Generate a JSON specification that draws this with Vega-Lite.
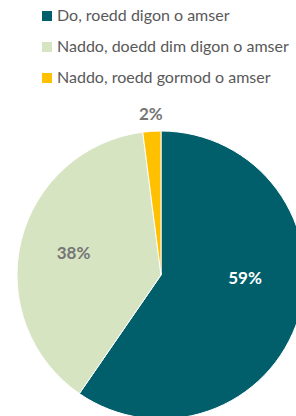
{
  "$schema": "https://vega.github.io/schema/vega-lite/v6.json",
  "width": 270,
  "height": 282,
  "autosize": {"type": "none"},
  "padding": {"left": 26, "top": 134, "right": 0, "bottom": 0},
  "background": "white",
  "config": {"view": {"stroke": null}},
  "data": {
    "values": [
      {"answer": "Do, roedd digon o amser", "value": 59, "label": "59%"},
      {"answer": "Naddo, doedd dim digon o amser", "value": 38, "label": "38%"},
      {"answer": "Naddo, roedd gormod o amser", "value": 2, "label": "2%"}
    ]
  },
  "encoding": {
    "theta": {"field": "value", "type": "quantitative", "stack": true},
    "order": {"field": "value", "type": "quantitative", "sort": "descending"}
  },
  "layer": [
    {
      "mark": {"type": "arc", "radius": 144, "stroke": "white", "strokeWidth": 1},
      "encoding": {
        "color": {
          "field": "answer",
          "type": "nominal",
          "scale": {
            "domain": ["Do, roedd digon o amser", "Naddo, doedd dim digon o amser", "Naddo, roedd gormod o amser"],
            "range": ["#005F6B", "#D6E4C2", "#FFC000"]
          },
          "legend": {
            "title": null,
            "orient": "none",
            "legendX": 13,
            "legendY": -126,
            "padding": 0,
            "symbolType": "square",
            "symbolSize": 100,
            "symbolStrokeWidth": 0,
            "labelFont": "Lato",
            "labelFontSize": 16,
            "labelColor": "#595959",
            "labelOffset": 2,
            "rowPadding": 15,
            "labelLimit": 300
          }
        }
      }
    },
    {
      "mark": {"type": "text", "radius": 88, "dy": -22, "font": "Lato", "fontWeight": "bold", "fontSize": 17, "fill": "white"},
      "encoding": {"text": {"condition": {"test": "datum.value == 59", "field": "label"}, "value": ""}}
    },
    {
      "mark": {"type": "text", "radius": 90, "font": "Lato", "fontWeight": "bold", "fontSize": 17, "fill": "#767676"},
      "encoding": {"text": {"condition": {"test": "datum.value == 38", "field": "label"}, "value": ""}}
    },
    {
      "mark": {"type": "text", "radius": 160, "font": "Lato", "fontWeight": "bold", "fontSize": 17, "fill": "#767676"},
      "encoding": {"text": {"condition": {"test": "datum.value == 2", "field": "label"}, "value": ""}}
    }
  ]
}
